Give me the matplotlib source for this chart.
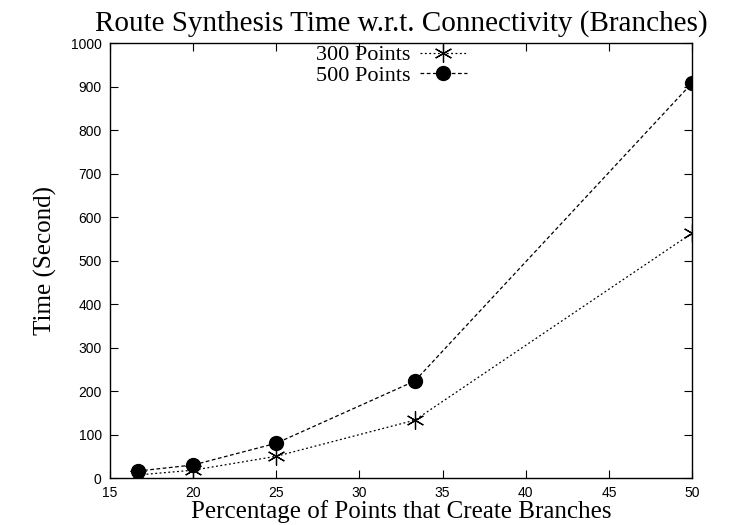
import matplotlib
matplotlib.use("Agg")
import matplotlib.pyplot as plt

x_vals = [16.67, 20, 25, 33.33, 50]
pts300 = [7, 18, 50, 133, 563]
pts500 = [16, 30, 80, 223, 908]
labels = ["300 Points", "500 Points"]

fig = plt.figure(figsize=(7.5, 5.25), dpi=100)
ax = fig.add_axes([0.1467, 0.0895, 0.776, 0.8285])

dot_style = (0, (1.5, 2))
dash_style = (0, (3, 2))
ax.plot(x_vals, pts300, color="black", linestyle=dot_style, linewidth=0.9,
        marker=(6, 2, 0), markersize=13, markeredgewidth=0.9, label=labels[0])
ax.plot(x_vals, pts500, color="black", linestyle=dash_style, linewidth=0.9,
        marker="o", markersize=10, label=labels[1])

leg = ax.legend(labels=labels, loc="upper center", bbox_to_anchor=(0.483, 1.042),
                frameon=False, markerfirst=False, handlelength=2.1,
                prop={"family": "Liberation Serif", "size": 16},
                labelspacing=0.0, handletextpad=0.45)

ax.set_xlim(15, 50)
ax.set_ylim(0, 1000)
ax.set_xticks([15, 20, 25, 30, 35, 40, 45, 50])
ax.set_yticks(range(0, 1001, 100))
ax.tick_params(direction="in", top=True, right=True, length=6, width=0.8,
               labelsize=10, pad=6)
for lab in ax.get_xticklabels() + ax.get_yticklabels():
    lab.set_family("Liberation Sans")
for s in ax.spines.values():
    s.set_linewidth(1.0)

ax.set_title("Route Synthesis Time w.r.t. Connectivity (Branches)",
             family="Liberation Serif", fontsize=21, pad=9)
ax.set_xlabel("Percentage of Points that Create Branches", family="Liberation Serif",
              fontsize=18, labelpad=0)
ax.set_ylabel("Time (Second)", family="Liberation Serif", fontsize=18, labelpad=10)

fig.savefig("out.png", dpi=100)
